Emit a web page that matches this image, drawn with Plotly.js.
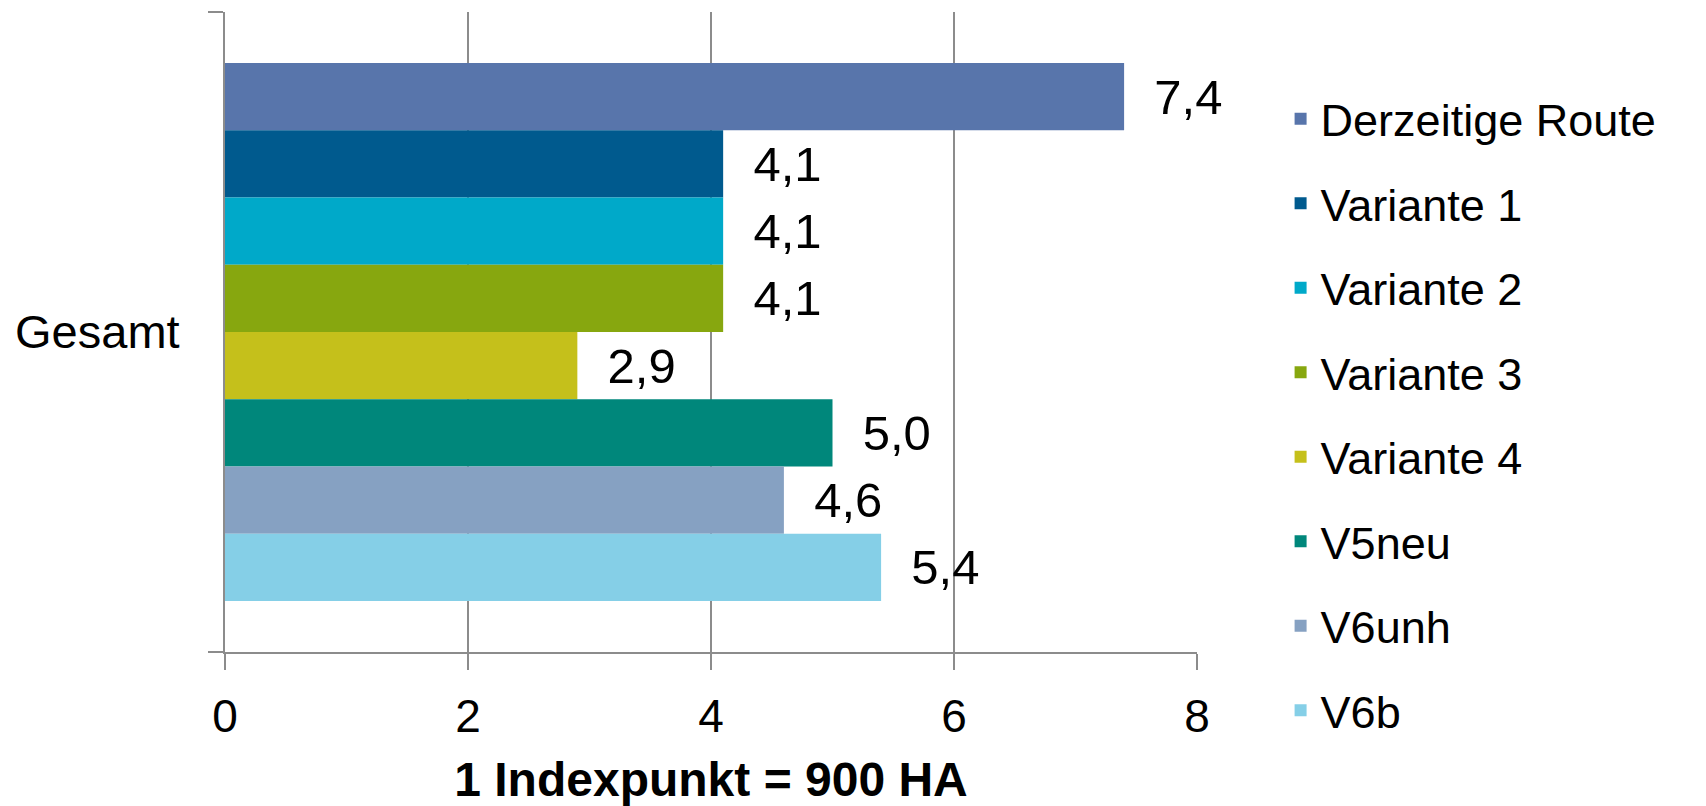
<!DOCTYPE html>
<html>
<head>
<meta charset="utf-8">
<script src="https://cdn.plot.ly/plotly-3.0.1.min.js"></script>
<style>
  html, body { margin: 0; padding: 0; background: #ffffff; }
  #chart { width: 1706px; height: 806px; }
</style>
</head>
<body>
<div id="chart"></div>
<script>
// ---- data ----
const categories = ["Gesamt"];
const seriesNames = ["Derzeitige Route", "Variante 1", "Variante 2", "Variante 3", "Variante 4", "V5neu", "V6unh", "V6b"];
const seriesValues = [7.4, 4.1, 4.1, 4.1, 2.9, 5.0, 4.6, 5.4];
const seriesColors = ["#5875AB", "#005A8E", "#00A9C9", "#87A70F", "#C5C01B", "#00877B", "#86A1C2", "#85CFE7"];
const xTickValues = [0, 2, 4, 6, 8];
const xAxisTitle = "1 Indexpunkt = 900 HA";

const FONT = "Liberation Sans, Arial, sans-serif";

const traces = seriesNames.map((name, i) => ({
  type: "bar",
  orientation: "h",
  name: name,
  legendgroup: "g" + i,
  y: categories,
  x: [seriesValues[i]],
  marker: { color: seriesColors[i], line: { width: 0 } },
  texttemplate: "\u2007%{x:.1f}",
  textposition: "outside",
  textfont: { family: FONT, size: 49, color: "#000000" },
  constraintext: "none",
  cliponaxis: false,
  hoverinfo: "name+x"
}));

const layout = {
  width: 1706,
  height: 806,
  margin: { l: 225, r: 509, t: 12, b: 154, pad: 0 },
  paper_bgcolor: "#ffffff",
  plot_bgcolor: "#ffffff",
  barmode: "group",
  bargap: 0.159,
  bargroupgap: 0,
  separators: ",.",
  font: { family: FONT, color: "#000000" },
  showlegend: true,
  legend: {
    x: 1.086, xanchor: "left",
    y: 0.889, yanchor: "top",
    font: { family: FONT, size: 45, color: "#000000" },
    tracegroupgap: 23,
    traceorder: "grouped",
    maxheight: 800,
    bgcolor: "rgba(0,0,0,0)"
  },
  xaxis: {
    range: [0, 8],
    tickvals: xTickValues,
    ticktext: xTickValues.map(String),
    showgrid: true,
    gridcolor: "#8C8C8C",
    gridwidth: 2,
    zeroline: false,
    showline: true,
    linecolor: "#8C8C8C",
    linewidth: 2,
    ticks: "outside",
    ticklen: 16,
    tickwidth: 2,
    tickcolor: "#8C8C8C",
    tickfont: { family: FONT, size: 46, color: "#000000" },
    ticklabelstandoff: 7,
    automargin: false,
    title: {
      text: "<b>" + xAxisTitle + "</b>",
      font: { family: FONT, size: 48, color: "#000000" },
      standoff: 27
    }
  },
  yaxis: {
    type: "category",
    autorange: "reversed",
    showgrid: false,
    zeroline: false,
    showline: true,
    linecolor: "#8C8C8C",
    linewidth: 2,
    ticks: "outside",
    tickson: "boundaries",
    ticklen: 15,
    tickwidth: 2,
    tickcolor: "#8C8C8C",
    tickfont: { family: FONT, size: 47, color: "#000000" },
    ticklabelstandoff: 34,
    automargin: false
  }
};

Plotly.newPlot("chart", traces, layout, { displayModeBar: false, staticPlot: true });
</script>
</body>
</html>
